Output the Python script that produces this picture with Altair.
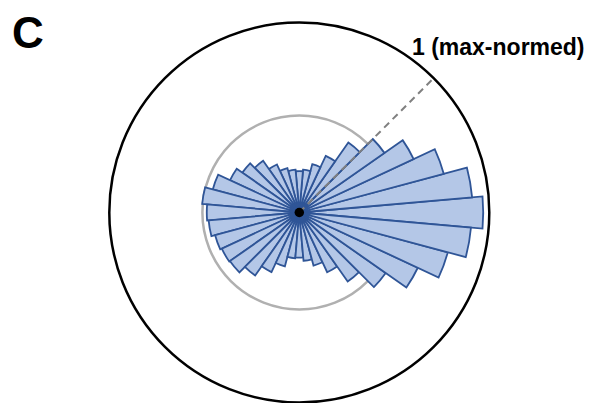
import math
import altair as alt
import pandas as pd

# Direction of each bar (degrees, counter-clockwise from 3 o'clock)
angles = list(range(0, 360, 10))
# Max-normed magnitude of each bar
values = [0.968, 0.913, 0.787, 0.664, 0.547, 0.450, 0.329, 0.263, 0.226,
          0.218, 0.226, 0.242, 0.279, 0.332, 0.366, 0.402, 0.471, 0.513,
          0.487, 0.479, 0.459, 0.450, 0.446, 0.405, 0.346, 0.293, 0.242,
          0.237, 0.255, 0.289, 0.347, 0.444, 0.555, 0.688, 0.809, 0.907]
bar_width_deg = 10

# Reference rings
outer_ring = [1.0]
inner_ring = [0.51]
ref_angle_deg = 45
ref_label = "1 (max-normed)"
panel_label = "C"

df = pd.DataFrame({"angle": angles, "value": values})

cx, cy, R = 291.3, 204.5, 190
xs = alt.Scale(domain=[-1, 1], range=[cx - R, cx + R], nice=False, zero=False)
ys = alt.Scale(domain=[-1, 1], range=[cy + R, cy - R], nice=False, zero=False)
rs = alt.Scale(type="linear", domain=[0, 1], range=[0, R], zero=True)

X0 = alt.XDatum(0, scale=xs, axis=None)
Y0 = alt.YDatum(0, scale=ys, axis=None)

half = bar_width_deg / 2
bars = alt.Chart(df).transform_calculate(
    t1=f"(90 - datum.angle - {half}) * PI / 180",
    t2=f"(90 - datum.angle + {half}) * PI / 180",
).mark_arc(fill="#b4c7e7", stroke="#2f5597", strokeWidth=1.8, strokeJoin="miter").encode(
    x=X0, y=Y0,
    theta=alt.Theta("t1:Q", scale=None, stack=None),
    theta2=alt.Theta2("t2:Q"),
    radius=alt.Radius("value:Q", scale=rs),
)

outer = alt.Chart(pd.DataFrame({"r": outer_ring})).mark_arc(
    fillOpacity=0, stroke="black", strokeWidth=2.5
).encode(
    x=X0, y=Y0,
    theta=alt.value(0), theta2=alt.value(2 * math.pi),
    radius=alt.Radius("r:Q", scale=rs),
)

inner = alt.Chart(pd.DataFrame({"r": inner_ring})).mark_arc(
    fillOpacity=0, stroke="#b0b0b0", strokeWidth=2.5
).encode(
    x=X0, y=Y0,
    theta=alt.value(0), theta2=alt.value(2 * math.pi),
    radius=alt.Radius("r:Q", scale=rs),
)

a = math.radians(ref_angle_deg)
line_df = pd.DataFrame({"x1": [0.0], "y1": [0.0],
                        "x2": [math.cos(a) * outer_ring[0]],
                        "y2": [math.sin(a) * outer_ring[0]]})
dashed = alt.Chart(line_df).mark_rule(
    color="#808080", strokeWidth=2, strokeDash=[7, 5]
).encode(
    x=alt.X("x1:Q", scale=xs, axis=None),
    y=alt.Y("y1:Q", scale=ys, axis=None),
    x2="x2:Q", y2="y2:Q",
)

dot = alt.Chart(pd.DataFrame({"d": [0]})).mark_circle(
    color="black", size=90, opacity=1
).encode(x=X0, y=Y0)

lab = alt.Chart(pd.DataFrame({"t": [ref_label]})).mark_text(
    font="Liberation Sans", fontWeight="bold", fontSize=23, align="left",
    baseline="alphabetic", color="black"
).encode(x=alt.value(404), y=alt.value(47), text="t:N")

panel = alt.Chart(pd.DataFrame({"t": [panel_label]})).mark_text(
    font="Liberation Sans", fontWeight="bold", fontSize=44, align="left",
    baseline="alphabetic", color="black"
).encode(x=alt.value(4), y=alt.value(40), text="t:N")

chart = alt.layer(outer, inner, bars, dashed, dot, lab, panel).properties(
    width=580, height=395,
    autosize=alt.AutoSizeParams(type="none"),
    padding=0,
).configure_view(stroke=None)

chart.save("out.html", embed_options={"renderer": "svg", "actions": False})
